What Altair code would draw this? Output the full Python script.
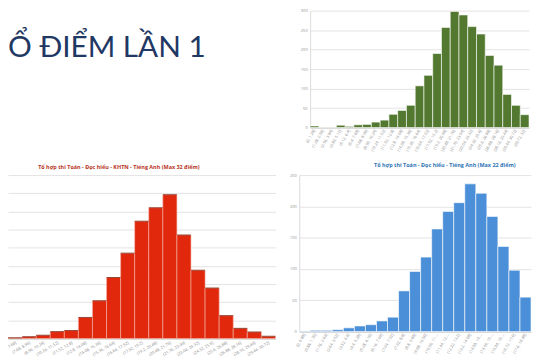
import altair as alt
import pandas as pd

slide_title = "Ổ ĐIỂM LẦN 1"

green_labels = ["[0, 1.28]", "(1.28, 2.56]", "(2.56, 3.84]", "(3.84, 5.12]", "(5.12, 6.4]",
                "(6.4, 7.68]", "(7.68, 8.96]", "(8.96, 10.24]", "(10.24, 11.52]", "(11.52, 12.8]",
                "(12.8, 14.08]", "(14.08, 15.36]", "(15.36, 16.64]", "(16.64, 17.92]", "(17.92, 19.2]",
                "(19.2, 20.48]", "(20.48, 21.76]", "(21.76, 23.04]", "(23.04, 24.32]", "(24.32, 25.6]",
                "(25.6, 26.88]", "(26.88, 28.16]", "(28.16, 29.44]", "(29.44, 30.72]", "(30.72, 32]"]
green_vals = [4, 1, 1, 6, 3, 7, 8, 14, 19, 34, 44, 57, 107, 134, 190, 257, 298, 289, 259, 240,
              185, 160, 85, 57, 33]

red_title = "Tổ hợp thi Toán - Đọc hiểu - KHTN - Tiếng Anh (Max 32 điểm)"
red_labels = ["(6.4, 7.68]", "(7.68, 8.96]", "(8.96, 10.24]", "(10.24, 11.52]", "(11.52, 12.8]",
              "(12.8, 14.08]", "(14.08, 15.36]", "(15.36, 16.64]", "(16.64, 17.92]", "(17.92, 19.2]",
              "(19.2, 20.48]", "(20.48, 21.76]", "(21.76, 23.04]", "(23.04, 24.32]", "(24.32, 25.6]",
              "(25.6, 26.88]", "(26.88, 28.16]", "(28.16, 29.44]", "(29.44, 30.72]"]
red_vals = [2, 5, 9, 19, 22, 58, 104, 168, 235, 323, 360, 396, 285, 188, 139, 63, 28, 18, 6]

blue_title = "Tổ hợp thi Toán - Đọc hiểu - Tiếng Anh (Max 22 điểm)"
blue_labels = ["[0, 0.88]", "(0.88, 1.76]", "(1.76, 2.64]", "(2.64, 3.52]", "(3.52, 4.4]",
               "(4.4, 5.28]", "(5.28, 6.16]", "(6.16, 7.04]", "(7.04, 7.92]", "(7.92, 8.8]",
               "(8.8, 9.68]", "(9.68, 10.56]", "(10.56, 11.44]", "(11.44, 12.32]", "(12.32, 13.2]",
               "(13.2, 14.08]", "(14.08, 14.96]", "(14.96, 15.84]", "(15.84, 16.72]", "(16.72, 17.6]",
               "(17.6, 18.48]"]
blue_vals = [1, 2, 2, 3, 6, 9, 11, 17, 23, 65, 96, 119, 164, 192, 206, 236, 221, 184, 136, 98, 55]

green_ticks = [0, 50, 100, 150, 200, 250, 300]
red_ticks = [0, 50, 100, 150, 200, 250, 300, 350, 400, 450]
blue_ticks = [0, 50, 100, 150, 200, 250]

FONT = "Open Sans"
GRID = "#e3e3e3"
LBL = "#8c8c8c"

green_df = pd.DataFrame({"bin": green_labels, "n": green_vals})
red_df = pd.DataFrame({"bin": red_labels, "n": red_vals})
blue_df = pd.DataFrame({"bin": blue_labels, "n": blue_vals})
title_df = pd.DataFrame({"t": [slide_title]})


def xaxis(angle, extent, limit):
    return alt.Axis(title=None, labelAngle=angle, labelFontSize=4, labelColor=LBL, labelFont=FONT,
                    ticks=False, domainColor="#c8c8c8", labelLimit=limit, labelPadding=2,
                    minExtent=extent, maxExtent=extent, grid=False)


def yaxis(values, show_labels=True):
    if show_labels:
        return alt.Axis(title=None, values=values, labelFontSize=4, labelColor=LBL, labelFont=FONT,
                        ticks=False, domainColor="#dcdcdc", gridColor=GRID, labelPadding=3,
                        minExtent=10, maxExtent=10)
    return alt.Axis(title=None, values=values, labels=False, ticks=False, domain=False,
                    gridColor=GRID, minExtent=0, maxExtent=0)


title_chart = alt.Chart(title_df).mark_text(
    align="left", baseline="alphabetic", font="Lato", fontSize=30, color="#1f3864"
).encode(text="t:N", x=alt.value(0), y=alt.value(47)).properties(width=293, height=144)

green = alt.Chart(green_df).mark_bar(color="#52792f", stroke="#ffffff", strokeWidth=0.6).encode(
    x=alt.X("bin:N", sort=green_labels, scale=alt.Scale(paddingInner=0, paddingOuter=0),
            axis=xaxis(300, 25, 30)),
    y=alt.Y("n:Q", scale=alt.Scale(domain=[0, 300]), axis=yaxis(green_ticks)),
).properties(width=221, height=118)

red_x = alt.X("bin:N", sort=red_labels, scale=alt.Scale(paddingInner=0, paddingOuter=0),
              axis=xaxis(330, 14, 30))
red_y = alt.Y("n:Q", scale=alt.Scale(domain=[0, 450]), axis=yaxis(red_ticks, False))
red_bars = alt.Chart(red_df).mark_bar(color="#e2280c", stroke="#f4b5a6", strokeWidth=0.6).encode(
    x=red_x, y=red_y)
red_tops = alt.Chart(red_df).mark_tick(color="#6e1f10", thickness=1, size=14).encode(x=red_x, y=red_y)
red = alt.layer(red_bars, red_tops).properties(
    width=270, height=165,
    title=alt.TitleParams(red_title, fontSize=5.5, fontWeight="bold", color="#b8321c", font=FONT,
                          anchor="middle", dx=-23, offset=5),
)

blue = alt.Chart(blue_df).mark_bar(color="#4a8fd7", stroke="#ffffff", strokeWidth=0.6).encode(
    x=alt.X("bin:N", sort=blue_labels, scale=alt.Scale(paddingInner=0, paddingOuter=0),
            axis=xaxis(300, 18, 24)),
    y=alt.Y("n:Q", scale=alt.Scale(domain=[0, 250]), axis=yaxis(blue_ticks)),
).properties(
    width=234, height=158,
    title=alt.TitleParams(blue_title, fontSize=5.5, fontWeight="bold", color="#2e75b6", font=FONT,
                          anchor="middle", dx=30, offset=5),
)

top = alt.hconcat(title_chart, green, spacing=0)
bottom = alt.hconcat(red, blue, spacing=12)
chart = alt.vconcat(top, bottom, spacing=8).properties(
    padding={"left": -10, "top": -2, "right": 0, "bottom": 0},
    background="#ffffff",
).configure_view(stroke="transparent")

chart.save("out.html", embed_options={"renderer": "svg", "actions": False})
